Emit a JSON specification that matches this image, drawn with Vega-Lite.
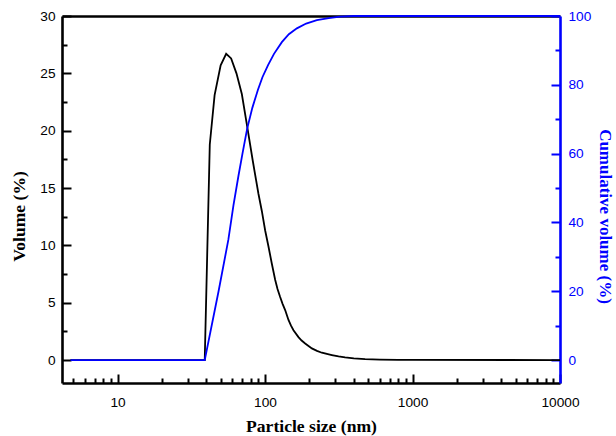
{
  "$schema": "https://vega.github.io/schema/vega-lite/v6.json",
  "width": 498,
  "height": 367,
  "autosize": {"type": "none"},
  "padding": {"left": 62, "top": 16, "right": 56, "bottom": 53},
  "background": "white",
  "config": {
    "view": {"stroke": null},
    "axis": {
      "grid": false,
      "zindex": 1,
      "labelFont": "Liberation Sans",
      "labelFontSize": 13.7,
      "labelColor": "#000000",
      "labelFlush": false,
      "labelOverlap": false,
      "titleFont": "Liberation Serif",
      "titleFontSize": 17.6,
      "titleFontWeight": "bold",
      "titleColor": "#000000",
      "domainColor": "#000000",
      "tickColor": "#000000",
      "tickWidth": 2,
      "domainWidth": 2.6
    }
  },
  "datasets": {
    "vol": [
      {"size": 4.8, "v": 0},
      {"size": 39.0, "v": 0},
      {"size": 42.2, "v": 18.8},
      {"size": 45.5, "v": 23.1},
      {"size": 50.0, "v": 25.7},
      {"size": 54.5, "v": 26.7},
      {"size": 58.9, "v": 26.3},
      {"size": 64.0, "v": 25.0},
      {"size": 69.6, "v": 23.2},
      {"size": 75.6, "v": 20.4},
      {"size": 82.5, "v": 17.4},
      {"size": 90.2, "v": 14.5},
      {"size": 95.1, "v": 13.0},
      {"size": 100.2, "v": 11.3},
      {"size": 105.5, "v": 9.9},
      {"size": 111.2, "v": 8.4},
      {"size": 117.1, "v": 7.0},
      {"size": 121.5, "v": 6.2},
      {"size": 126.6, "v": 5.5},
      {"size": 131.5, "v": 4.9},
      {"size": 136.9, "v": 4.36},
      {"size": 144.2, "v": 3.5},
      {"size": 150, "v": 3.0},
      {"size": 155.9, "v": 2.6},
      {"size": 168.5, "v": 2.0},
      {"size": 177, "v": 1.7},
      {"size": 187.1, "v": 1.45},
      {"size": 207.7, "v": 1.02},
      {"size": 225, "v": 0.8},
      {"size": 242.7, "v": 0.64},
      {"size": 283.8, "v": 0.44},
      {"size": 315, "v": 0.32},
      {"size": 349, "v": 0.23},
      {"size": 400, "v": 0.14},
      {"size": 477, "v": 0.08},
      {"size": 600, "v": 0.04},
      {"size": 800, "v": 0.02},
      {"size": 1000, "v": 0.01},
      {"size": 10000, "v": 0}
    ],
    "cum": [
      {"size": 4.8, "c": 0},
      {"size": 39.0, "c": 0},
      {"size": 48.4, "c": 20},
      {"size": 56.4, "c": 35},
      {"size": 61.1, "c": 45},
      {"size": 66.0, "c": 53.5},
      {"size": 70.3, "c": 60},
      {"size": 75.6, "c": 67.2},
      {"size": 82.0, "c": 73.3},
      {"size": 89.4, "c": 78.5},
      {"size": 96, "c": 82.2},
      {"size": 105, "c": 85.8},
      {"size": 115, "c": 89.0},
      {"size": 130, "c": 92.4},
      {"size": 145, "c": 94.7},
      {"size": 164.4, "c": 96.4},
      {"size": 190, "c": 97.8},
      {"size": 224.6, "c": 98.8},
      {"size": 270, "c": 99.4},
      {"size": 323, "c": 99.8},
      {"size": 400, "c": 100},
      {"size": 10000, "c": 100}
    ]
  },
  "layer": [
    {
      "data": {"name": "vol"},
      "mark": {"type": "line", "color": "#000000", "strokeWidth": 1.8},
      "encoding": {
        "x": {
          "field": "size", "type": "quantitative",
          "scale": {"type": "log", "domain": [4.2, 10000], "nice": false},
          "axis": {
            "orient": "bottom",
            "values": [10, 100, 1000, 10000],
            "format": "d",
            "tickSize": -9,
            "labelPadding": 21,
            "title": "Particle size (nm)",
            "titlePadding": 9
          }
        },
        "y": {
          "field": "v", "type": "quantitative",
          "scale": {"domain": [-2, 30], "nice": false, "zero": false},
          "axis": {
            "orient": "left",
            "values": [0, 5, 10, 15, 20, 25, 30],
            "tickSize": -9,
            "labelPadding": 16,
            "title": "Volume (%)",
            "titlePadding": 11,
            "titleY": 200
          }
        }
      }
    },
    {
      "data": {"name": "cum"},
      "mark": {"type": "line", "color": "#0000ff", "strokeWidth": 1.8},
      "encoding": {
        "x": {
          "field": "size", "type": "quantitative",
          "scale": {"type": "log", "domain": [4.2, 10000], "nice": false},
          "axis": {
            "orient": "bottom",
            "values": [5, 6, 7, 8, 9, 20, 30, 40, 50, 60, 70, 80, 90, 200, 300, 400, 500, 600, 700, 800, 900, 2000, 3000, 4000, 5000, 6000, 7000, 8000, 9000],
            "tickSize": -5,
            "labels": false,
            "domain": false,
            "title": null
          }
        },
        "y": {
          "field": "c", "type": "quantitative",
          "scale": {"domain": [-6.6667, 100], "nice": false, "zero": false},
          "axis": {
            "orient": "right",
            "values": [0, 20, 40, 60, 80, 100],
            "tickSize": -9,
            "labelPadding": 17,
            "domainColor": "#0000ff",
            "tickColor": "#0000ff",
            "labelColor": "#0000ff",
            "titleColor": "#0000ff",
            "title": "Cumulative volume (%)",
            "titleFontSize": 17,
            "titlePadding": 5,
            "titleY": 200
          }
        }
      }
    },
    {
      "data": {"name": "vol"},
      "mark": {"type": "line", "opacity": 0},
      "encoding": {
        "x": {
          "field": "size", "type": "quantitative",
          "scale": {"type": "log", "domain": [4.2, 10000], "nice": false},
          "axis": {
            "orient": "top",
            "ticks": false,
            "labels": false,
            "title": null
          }
        },
        "y": {
          "field": "v", "type": "quantitative",
          "scale": {"domain": [-2, 30], "nice": false, "zero": false},
          "axis": {
            "orient": "left",
            "values": [2.5, 7.5, 12.5, 17.5, 22.5, 27.5],
            "tickSize": -5,
            "labels": false,
            "domain": false,
            "title": null
          }
        }
      }
    },
    {
      "data": {"name": "cum"},
      "mark": {"type": "line", "opacity": 0},
      "encoding": {
        "x": {
          "field": "size", "type": "quantitative",
          "scale": {"type": "log", "domain": [4.2, 10000], "nice": false},
          "axis": null
        },
        "y": {
          "field": "c", "type": "quantitative",
          "scale": {"domain": [-6.6667, 100], "nice": false, "zero": false},
          "axis": {
            "orient": "right",
            "values": [10, 30, 50, 70, 90],
            "tickSize": -5,
            "tickColor": "#0000ff",
            "labels": false,
            "domain": false,
            "title": null
          }
        }
      }
    }
  ],
  "resolve": {
    "scale": {"y": "independent"},
    "axis": {"x": "independent", "y": "independent"}
  }
}
